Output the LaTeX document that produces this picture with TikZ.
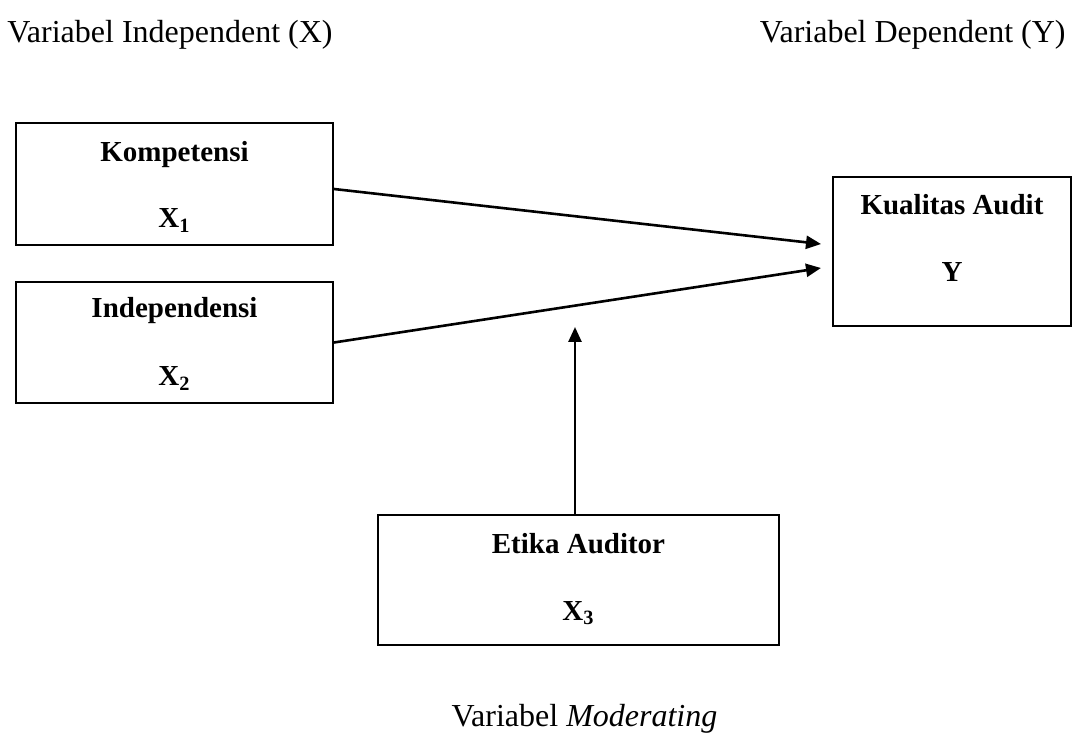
\documentclass[tikz,border=0pt]{standalone}
\usepackage{fontspec}
\setmainfont{Liberation Serif}
\usetikzlibrary{arrows.meta}
\tikzset{
  box/.style={draw, line width=1pt, rectangle, inner sep=0pt},
  boxtext/.style={font=\fontsize{14.5}{17}\selectfont\bfseries, anchor=base, inner sep=0pt},
  plain/.style={font=\fontsize{16}{19}\selectfont, anchor=base, inner sep=0pt},
  conn/.style={line width=1.3pt, -{Triangle[length=7.5pt,width=6.5pt]}}
}
\begin{document}
\begin{tikzpicture}[x=0.5pt,y=-0.5pt]
\useasboundingbox (0,0) rectangle (1073,733);
% boxes
\node[box, minimum width=158.5pt, minimum height=61pt] (b1) at (174.5,184) {};
\node[box, minimum width=158.5pt, minimum height=60.5pt] (b2) at (174.5,342.5) {};
\node[box, minimum width=119pt, minimum height=74.5pt] (b3) at (952,251.5) {};
\node[box, minimum width=200.5pt, minimum height=65pt] (b4) at (578.5,580) {};
% box texts
\node[boxtext] (t1a) at (174.5,162) {Kompetensi};
\node[boxtext] (t1b) at (174.5,228) {X\textsubscript{1}};
\node[boxtext] (t2a) at (174.5,318) {Independensi};
\node[boxtext] (t2b) at (174.5,386) {X\textsubscript{2}};
\node[boxtext] (t3a) at (952,215) {Kualitas Audit};
\node[boxtext] (t3b) at (952,282) {Y};
\node[boxtext] (t4a) at (578.5,553) {Etika Auditor};
\node[boxtext] (t4b) at (578.5,620) {X\textsubscript{3}};
% labels
\node[plain, anchor=base west] (lx) at (7,43) {Variabel Independent (X)};
\node[plain, anchor=base east] (ly) at (1066,43) {Variabel Dependent (Y)};
\node[plain] (lm) at (584.5,726) {Variabel \textit{Moderating}};
% connectors
\coordinate (tip1) at (821,244);
\coordinate (tip2) at (821,268);
\coordinate (tip3) at (575,327);
\draw[conn] ([yshift=-2.5pt]b1.east) -- (tip1);
\draw[conn] (b2.east) -- (tip2);
\draw[conn] ([xshift=-1.75pt]b4.north) -- (tip3);
\end{tikzpicture}
\end{document}
